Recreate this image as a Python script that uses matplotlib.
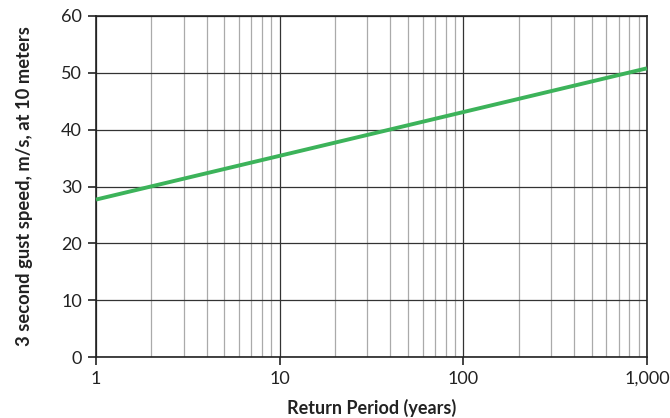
import matplotlib.pyplot as plt
from matplotlib.ticker import FixedLocator, LogLocator, NullFormatter

plt.rcParams['font.family'] = ['Lato', 'DejaVu Sans']

# Return period (years) and design gust speed (m/s)
return_period = [1, 10, 100, 1000]
gust_speed    = [27.7, 35.4, 43.1, 50.8]

x_ticks  = [1, 10, 100, 1000]
x_labels = ['1', '10', '100', '1,000']
y_ticks  = [0, 10, 20, 30, 40, 50, 60]

fig = plt.figure(figsize=(6.7, 4.18), dpi=100)
ax = fig.add_axes([96 / 670, 1 - 357 / 418, (647 - 96) / 670, (357 - 16) / 418])

ax.set_xscale('log')
ax.set_xlim(1, 1000)
ax.set_ylim(0, 60)

ax.xaxis.set_major_locator(FixedLocator(x_ticks))
ax.set_xticklabels(x_labels)
ax.xaxis.set_minor_locator(LogLocator(base=10, subs=range(2, 10)))
ax.xaxis.set_minor_formatter(NullFormatter())
ax.set_yticks(y_ticks)

ax.grid(True, which='major', axis='both', color='#333333', linewidth=0.9)
ax.grid(True, which='minor', axis='x', color='#aaaaaa', linewidth=0.9)
ax.set_axisbelow(True)

ax.plot(return_period, gust_speed, color='#3cb35a', linewidth=2.8,
        solid_capstyle='butt', clip_on=False, zorder=3)

for s in ax.spines.values():
    s.set_color('#222222')
    s.set_linewidth(1.2)
ax.tick_params(axis='both', which='major', length=6, width=1.2, color='#222222',
               labelsize=13, labelcolor='#222222', pad=4)
ax.tick_params(axis='x', which='minor', length=0)

ax.set_xlabel('Return Period (years)', fontsize=13, fontweight='bold', color='#222222', labelpad=9)
ax.set_ylabel('3 second gust speed, m/s, at 10 meters', fontsize=13.2, fontweight='bold',
              color='#222222', labelpad=20)

fig.savefig('out.png', dpi=100)
